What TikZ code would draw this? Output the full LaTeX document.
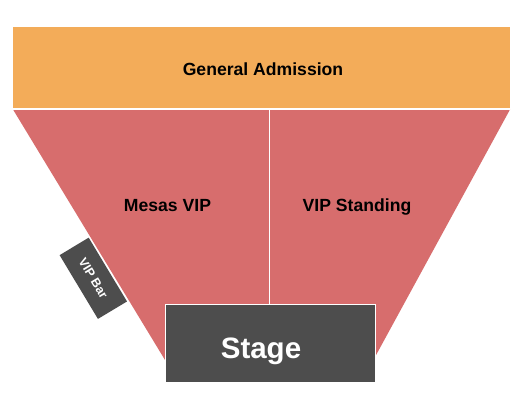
\documentclass[tikz,border=0pt]{standalone}
\usepackage{fontspec}
\setmainfont{Liberation Sans}
\begin{document}
\begin{tikzpicture}[x=1pt,y=1pt,
  lbl/.style={font=\bfseries\fontsize{17.6}{20}\selectfont, text=black, inner sep=0pt, anchor=base},
  divline/.style={draw=white, line width=1.2pt}]
\definecolor{gacol}{HTML}{F3AC59}
\definecolor{vipcol}{HTML}{D76D6D}
\definecolor{stagecol}{HTML}{4D4D4D}
\useasboundingbox (0,0) rectangle (525,410);
% General Admission
\fill[gacol] (13,301.3) rectangle (510,383);
% VIP area
\fill[vipcol] (13,300.5) -- (510,300.5) -- (375,53) -- (165,50) -- cycle;
\draw[divline] (13,301) -- (510,301);
\coordinate (dtop) at (269.5,301);
\coordinate (dbot) at (269.5,105);
\draw[divline] (dtop) -- (dbot);
% Stage
\node[draw=white, line width=0.8pt, fill=stagecol, minimum width=210pt, minimum height=78pt, inner sep=0pt, anchor=south west] (stage) at (165,27) {};
% VIP Bar
\node[fill=stagecol, minimum width=74.4pt, minimum height=33.9pt, inner sep=0pt, rotate=-59] (vipbar) at (93.3,131.7) {};
% Labels
\node[lbl] (ga) at (263,334.3) {General Admission};
\node[lbl] (mesas) at (167.5,198) {Mesas VIP};
\node[lbl] (standing) at (357,198) {VIP Standing};
\node[lbl, font=\bfseries\fontsize{29.5}{32}\selectfont, text=white] (stagelbl) at (261,51.5) {Stage};
\node[font=\bfseries\fontsize{12.5}{14}\selectfont, text=white, inner sep=0pt, rotate=-59] (vipbarlbl) at (vipbar.center) {VIP Bar};
\end{tikzpicture}
\end{document}
